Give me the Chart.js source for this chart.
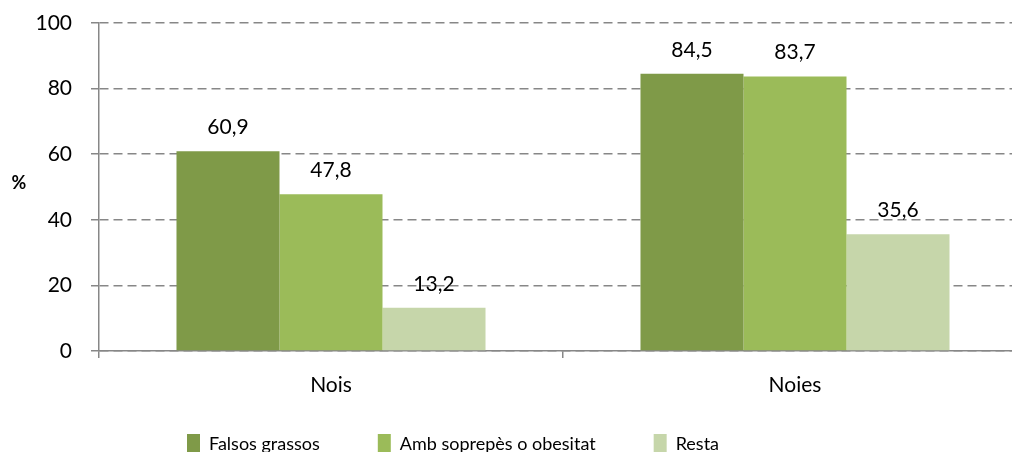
<!DOCTYPE html>
<html>
<head>
<meta charset="utf-8">
<script src="https://cdn.jsdelivr.net/npm/chart.js@4.4.0/dist/chart.umd.min.js"></script>
<style>
  html, body { margin: 0; padding: 0; background: #ffffff; overflow: hidden; width: 1012px; height: 452px; }
  #wrap { width: 1028px; height: 452px; }
</style>
</head>
<body>
<div id="wrap"><canvas id="c" width="1028" height="452"></canvas></div>
<script>
const categories = ['Nois', 'Noies'];
const seriesNames = ['Falsos grassos', 'Amb soprepès o obesitat', 'Resta'];
const falsosGrassos = [60.9, 84.5];
const ambSobrepes = [47.8, 83.7];
const resta = [13.2, 35.6];
const yTicks = [0, 20, 40, 60, 80, 100];
const yAxisLabel = '%';

const colors = ['#7F9A48', '#9BBB59', '#C6D6AA'];
const FONT = 'Lato';
const GRID = '#878787';
const LEGEND_H = 40;

const valueLabels = {
  id: 'valueLabels',
  afterDatasetsDraw(chart) {
    const ctx = chart.ctx;
    ctx.save();
    ctx.font = '21px ' + FONT;
    ctx.fillStyle = '#000000';
    ctx.textAlign = 'center';
    ctx.textBaseline = 'alphabetic';
    chart.data.datasets.forEach((ds, di) => {
      const meta = chart.getDatasetMeta(di);
      meta.data.forEach((el, i) => {
        const txt = ds.data[i].toFixed(1).replace('.', ',');
        ctx.fillText(txt, el.x, el.y - 17);
      });
    });
    ctx.restore();
  }
};

const yTitle = {
  id: 'yTitle',
  afterDraw(chart) {
    const ctx = chart.ctx;
    ctx.save();
    ctx.font = 'bold 18px ' + FONT;
    ctx.fillStyle = '#000000';
    ctx.textAlign = 'center';
    ctx.textBaseline = 'middle';
    ctx.fillText(yAxisLabel, 19, 183);
    ctx.restore();
  }
};

const legendPlace = {
  id: 'legendPlace',
  beforeLayout(chart) {
    const lg = chart.legend;
    if (lg && !lg._fixedFit) {
      const orig = lg.fit.bind(lg);
      lg.fit = function () { orig(); this.height = LEGEND_H; };
      lg._fixedFit = true;
    }
  },
  afterLayout(chart) {
    const lg = chart.legend;
    const pad = lg.options.labels.padding;
    lg.left = 187 - pad;
    lg.right = 1028;
    lg.width = lg.right - lg.left;
    lg.top = 434 - pad;
    lg.bottom = 452;
    lg.height = lg.bottom - lg.top;
  }
};

new Chart(document.getElementById('c'), {
  type: 'bar',
  data: {
    labels: categories,
    datasets: [
      { label: seriesNames[0], data: falsosGrassos, backgroundColor: colors[0] },
      { label: seriesNames[1], data: ambSobrepes, backgroundColor: colors[1] },
      { label: seriesNames[2], data: resta, backgroundColor: colors[2] }
    ]
  },
  plugins: [valueLabels, yTitle, legendPlace],
  options: {
    responsive: false,
    animation: false,
    devicePixelRatio: 1,
    layout: { padding: { top: 23, right: 1, left: 0, bottom: 0 } },
    datasets: { bar: { categoryPercentage: 0.666, barPercentage: 1.0, borderWidth: 0 } },
    plugins: {
      legend: {
        position: 'bottom',
        align: 'start',
        labels: {
          font: { family: FONT, size: 18 },
          color: '#000000',
          boxWidth: 13,
          boxHeight: 20,
          padding: 58
        }
      },
      tooltip: { enabled: false }
    },
    scales: {
      x: {
        grid: { display: true, drawOnChartArea: false, drawTicks: true, tickLength: 7, color: GRID, lineWidth: 1.5 },
        border: { display: true, color: GRID, width: 1.5 },
        ticks: { font: { family: FONT, size: 21 }, color: '#000000', padding: 15, maxRotation: 0 },
        afterFit(s) { s.height = 452 - 351 - LEGEND_H; s.paddingLeft = 0; s.paddingRight = 0; }
      },
      y: {
        min: 0,
        max: 100,
        afterBuildTicks(s) { s.ticks = yTicks.map(v => ({ value: v })); },
        grid: { color: GRID, lineWidth: 1.5, tickBorderDash: [], tickLength: 8, tickColor: GRID },
        border: { display: true, color: GRID, width: 1.5, dash: [9, 5] },
        ticks: { font: { family: FONT, size: 21 }, color: '#000000', padding: 19 },
        afterFit(s) { s.width = 99; s.paddingTop = 0; s.paddingBottom = 0; }
      }
    }
  }
});
</script>
</body>
</html>
